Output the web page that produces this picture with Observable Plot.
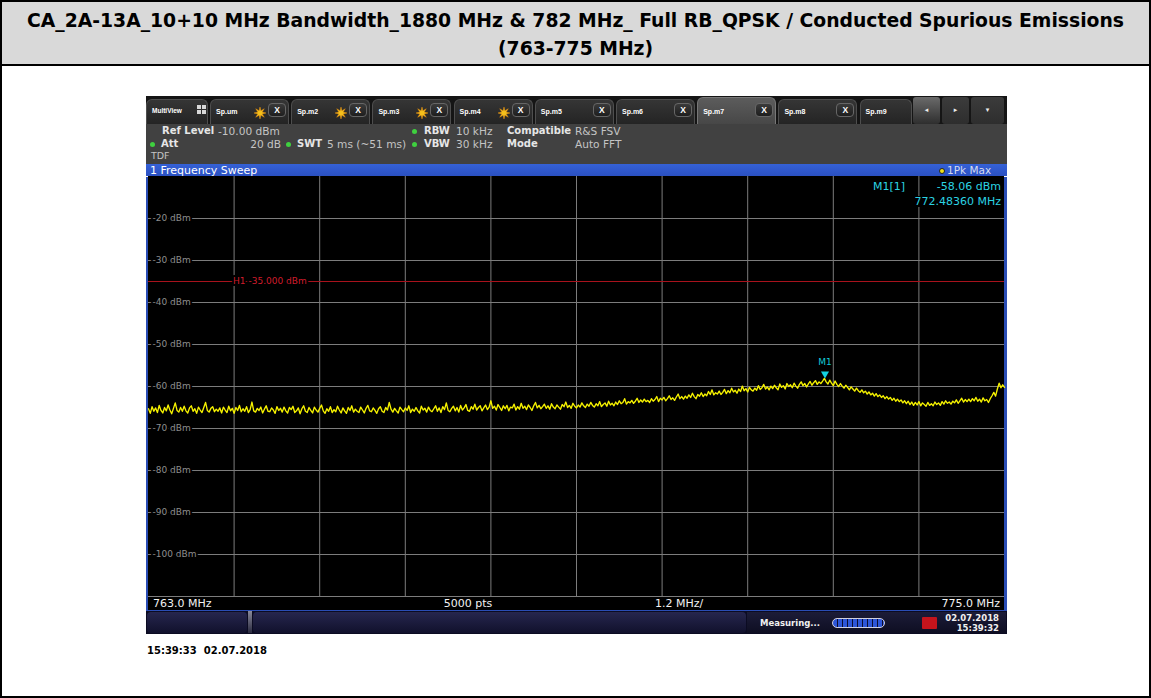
<!DOCTYPE html>
<html><head><meta charset="utf-8">
<script src="https://cdn.jsdelivr.net/npm/d3@7"></script>
<script src="https://cdn.jsdelivr.net/npm/@observablehq/plot@0.6"></script>
<style>
body{margin:0;background:#fff;}
#page{position:relative;width:1151px;height:698px;overflow:hidden;font-family:"DejaVu Sans",sans-serif;}
.a{position:absolute;white-space:nowrap;}
.t{position:absolute;white-space:pre;line-height:1;}
.lab{font-weight:bold;color:#e6e6e6;font-size:10px;}
.val{color:#c4c4c4;font-size:10.6px;}
</style></head><body><div id="page"></div>
<script>
// ---------- data ----------
const titleLines = ["CA_2A-13A_10+10 MHz Bandwidth_1880 MHz & 782 MHz_ Full RB_QPSK / Conducted Spurious Emissions", "(763-775 MHz)"];
const freqDomain = [763, 775];
const levelDomain = [-110, -10];
const gridFreqs = [764.2, 765.4, 766.6, 767.8, 769.0, 770.2, 771.4, 772.6, 773.8];
const gridLevels = [-20, -30, -40, -50, -60, -70, -80, -90, -100, -110];
const levelTicks = [-20, -30, -40, -50, -60, -70, -80, -90, -100];
const h1Level = -35;
const h1Label = "H1 -35.000 dBm";
const sweepStart = 763.0, sweepStep = 0.025;
const traceLevels = [
-65.3,-66.4,-64.8,-65.9,-65.1,-66.2,-64.5,-65.7,-66.3,-65.0,
-65.8,-64.4,-65.6,-66.5,-65.2,-63.9,-65.7,-66.1,-65.0,-65.9,
-64.7,-65.8,-66.3,-65.1,-64.6,-65.9,-65.3,-66.4,-64.9,-65.6,
-66.2,-65.0,-63.8,-65.7,-66.1,-65.2,-64.8,-66.0,-65.4,-65.9,
-65.1,-66.3,-64.9,-65.6,-66.2,-64.7,-65.8,-65.2,-66.4,-65.0,
-65.7,-64.5,-66.0,-65.3,-65.9,-64.8,-66.2,-65.5,-63.7,-65.8,
-66.1,-65.2,-65.7,-64.9,-66.3,-65.4,-64.6,-65.9,-66.0,-65.1,
-65.6,-66.4,-64.8,-65.7,-65.2,-66.1,-64.9,-65.8,-66.3,-65.0,
-65.5,-64.7,-66.2,-65.8,-65.1,-66.5,-65.3,-64.6,-65.9,-66.2,
-65.0,-65.7,-66.3,-64.9,-65.6,-66.1,-65.2,-64.4,-65.8,-66.4,
-65.3,-65.9,-64.8,-66.2,-65.5,-66.0,-64.7,-65.6,-66.3,-65.1,
-65.8,-66.4,-65.0,-65.7,-64.6,-66.1,-65.4,-65.9,-66.2,-64.9,
-65.6,-66.3,-65.2,-64.5,-65.8,-66.0,-65.1,-65.7,-66.4,-65.3,
-64.8,-65.9,-66.2,-65.0,-65.6,-63.8,-65.4,-66.1,-65.2,-65.8,
-66.3,-64.9,-65.5,-66.0,-65.1,-65.7,-64.6,-66.2,-65.4,-65.9,
-65.0,-65.8,-66.3,-64.7,-65.6,-65.2,-66.1,-64.9,-65.7,-66.0,
-65.3,-64.6,-65.9,-65.1,-66.2,-64.8,-65.5,-63.9,-65.7,-66.0,
-65.2,-64.7,-65.8,-65.0,-66.1,-64.5,-65.6,-65.1,-64.3,-65.7,
-65.9,-64.8,-65.4,-64.2,-65.6,-65.0,-64.6,-65.8,-65.1,-64.4,
-65.5,-64.9,-63.4,-65.2,-64.7,-65.6,-64.3,-65.0,-65.7,-64.6,
-65.3,-64.5,-65.8,-64.9,-65.1,-64.2,-65.6,-64.8,-65.4,-64.0,
-65.2,-64.7,-65.5,-64.4,-65.0,-65.7,-64.6,-63.8,-65.1,-64.5,
-65.3,-64.8,-64.2,-65.2,-64.6,-65.4,-64.1,-64.9,-65.3,-64.4,
-64.9,-65.4,-64.3,-64.8,-63.7,-65.0,-64.5,-65.2,-64.0,-64.7,
-65.1,-64.4,-64.9,-63.9,-64.6,-65.0,-64.2,-64.7,-63.8,-64.5,
-64.9,-64.1,-64.6,-63.6,-64.8,-64.3,-63.9,-64.7,-63.5,-64.4,
-64.0,-64.6,-63.7,-64.3,-63.4,-64.1,-63.8,-62.9,-64.2,-63.6,
-63.9,-63.3,-64.0,-63.5,-62.8,-63.8,-63.2,-63.7,-63.0,-63.6,
-63.3,-63.8,-62.9,-63.5,-63.1,-62.4,-63.6,-62.8,-63.2,-62.6,
-63.4,-62.9,-62.2,-63.1,-62.7,-63.3,-62.5,-61.8,-62.9,-62.4,
-63.0,-62.3,-62.8,-62.0,-62.6,-61.6,-62.4,-62.9,-61.9,-62.3,
-61.5,-62.4,-61.8,-62.2,-61.2,-61.9,-60.8,-62.0,-61.5,-61.8,
-61.1,-61.9,-61.4,-60.7,-61.7,-61.0,-61.5,-60.4,-61.3,-60.9,
-61.6,-60.6,-61.2,-59.9,-61.0,-60.5,-61.3,-60.2,-60.8,-61.1,
-60.4,-60.9,-59.8,-60.7,-60.3,-59.5,-60.6,-60.1,-60.8,-59.9,
-60.5,-59.7,-60.3,-60.8,-59.4,-60.2,-59.8,-60.6,-59.3,-60.0,
-59.6,-60.3,-59.2,-59.9,-60.4,-59.5,-58.9,-59.8,-59.3,-60.1,
-59.4,-58.8,-59.7,-59.1,-58.6,-59.5,-58.9,-59.3,-58.7,-58.06,
-58.9,-59.4,-58.5,-59.2,-59.8,-58.7,-59.5,-60.0,-59.3,-59.9,
-60.4,-59.7,-60.2,-60.8,-60.1,-60.6,-61.1,-60.4,-61.0,-61.4,
-60.8,-61.5,-61.1,-61.8,-61.3,-62.0,-61.6,-62.3,-61.7,-62.4,
-62.0,-62.6,-62.2,-62.9,-62.4,-63.0,-62.6,-63.3,-62.8,-63.5,
-63.0,-63.6,-63.2,-63.9,-63.4,-64.1,-63.5,-64.3,-63.7,-64.5,
-63.8,-64.4,-63.6,-64.6,-63.9,-64.3,-64.7,-63.8,-64.5,-64.1,
-64.6,-63.7,-64.3,-63.9,-64.5,-63.6,-64.2,-63.4,-64.0,-63.7,
-64.2,-63.5,-63.9,-63.2,-64.0,-63.4,-62.8,-63.7,-63.1,-63.6,
-63.0,-63.6,-62.9,-63.4,-62.6,-63.5,-63.0,-63.7,-62.7,-63.4,
-63.1,-63.8,-62.9,-62.2,-61.4,-62.3,-60.6,-59.2,-60.3,-59.6,
-60.2];
const marker = {name: "M1", freq: 772.4836, level: -58.06};
const markerText = ["M1[1]", "-58.06 dBm", "772.48360 MHz"];
const tabNames = ["Sp.um","Sp.m2","Sp.m3","Sp.m4","Sp.m5","Sp.m6","Sp.m7","Sp.m8","Sp.m9"];
const starTabs = [0,1,2,3];
const activeTab = 6;
const bottomLabels = ["763.0 MHz", "5000 pts", "1.2 MHz/", "775.0 MHz"];
const footerStamp = "15:39:33  02.07.2018";
const statusDate = ["02.07.2018", "15:39:32"];

const trace = traceLevels.map((v, i) => ({f: sweepStart + i * sweepStep, v}));

// ---------- helpers ----------
const page = document.getElementById("page");
function box(x, y, w, h, css) {
  const d = document.createElement("div");
  d.className = "a";
  d.style.cssText = `left:${x}px;top:${y}px;width:${w}px;height:${h}px;` + (css || "");
  page.appendChild(d); return d;
}
function txt(s, x, cy, css, anchor, cls) {
  const d = document.createElement("div");
  d.className = "t" + (cls ? " " + cls : "");
  d.textContent = s;
  d.style.cssText = css || "";
  page.appendChild(d);
  const r = d.getBoundingClientRect();
  let left = x;
  if (anchor === "end") left = x - r.width;
  else if (anchor === "middle") left = x - r.width / 2;
  d.style.left = left + "px";
  d.style.top = (cy - r.height / 2) + "px";
  return d;
}
function star(cx, cy) {
  const pts = [];
  for (let k = 0; k < 16; k++) {
    const rr = k % 2 ? 2.4 : 6;
    const a = k * Math.PI / 8;
    pts.push((rr * Math.cos(a)).toFixed(2) + "," + (rr * Math.sin(a)).toFixed(2));
  }
  const d = box(cx - 6, cy - 6, 12, 12, "");
  d.innerHTML = `<svg width="12" height="12" viewBox="-6 -6 12 12"><polygon points="${pts.join(" ")}" fill="#f4c01c" stroke="#e08a10" stroke-width="0.5"/></svg>`;
}

// ---------- outer table ----------
box(0, 0, 1151, 698, "box-sizing:border-box;border:2px solid #000;background:#fff;");
box(0, 0, 1151, 66, "box-sizing:border-box;border:2px solid #000;background:#d9d9d9;");
{
  const tcss = "font-family:'DejaVu Sans Condensed','DejaVu Sans',sans-serif;font-weight:bold;font-size:19px;color:#000;";
  const l1 = txt(titleLines[0], 0, 20, tcss);
  const w = l1.getBoundingClientRect().width;
  const s = 1097 / w;
  l1.style.transformOrigin = "0 50%";
  l1.style.transform = `scaleX(${s})`;
  l1.style.left = (575.5 - 1097 / 2) + "px";
  const l2 = txt(titleLines[1], 0, 48, tcss);
  const w2 = l2.getBoundingClientRect().width * s;
  l2.style.transformOrigin = "0 50%";
  l2.style.transform = `scaleX(${s})`;
  l2.style.left = (575.5 - w2 / 2) + "px";
}

// ---------- instrument screen ----------
// tab bar
box(146, 96, 861, 28, "background:#151515;");
box(146, 99, 62, 25, "background:linear-gradient(#353535,#242424);border:1px solid #4e4e4e;border-bottom:none;border-radius:6px 6px 0 0;box-sizing:border-box;");
txt("MultiView", 152, 111, "font-family:'Liberation Sans',sans-serif;font-weight:bold;font-size:6.5px;color:#fff;");
[[197,105],[202,105],[197,110],[202,110]].forEach(([x,y]) => box(x, y, 4, 4, "background:#d8d8d8;"));
tabNames.forEach((name, i) => {
  const x = 210 + i * 81.2;
  const width = i === tabNames.length - 1 ? 52 : 79;
  const act = i === activeTab;
  box(x, act ? 97 : 99, width, act ? 27 : 25,
    `box-sizing:border-box;border:1px solid ${act ? "#777" : "#4e4e4e"};border-bottom:none;border-radius:6px 6px 0 0;background:${act ? "linear-gradient(#5c5c5c,#474747)" : "linear-gradient(#353535,#242424)"};`);
  txt(name, x + 6, 111, "font-family:'Liberation Sans',sans-serif;font-weight:bold;font-size:7px;color:#fff;");
  if (starTabs.includes(i)) star(x + 50, 110);
  if (i < tabNames.length - 1) {
    box(x + 58, 103, 18, 14, "box-sizing:border-box;border:1px solid #666;border-radius:4px;background:linear-gradient(#3a3a3a,#1e1e1e);");
    txt("X", x + 67, 110.5, "font-family:'Liberation Sans',sans-serif;font-weight:bold;font-size:8.5px;color:#fff;", "middle");
  }
});
[[913, 27, "#6a6a6a", "◂"], [942, 27, "#3b3b3b", "▸"], [971, 33, "#3b3b3b", "▾"]].forEach(([x, w, c, g]) => {
  box(x, 97, w, 27, `background:linear-gradient(${c},#2e2e2e);border-radius:3px;`);
  txt(g, x + w / 2, 110, "font-size:7px;color:#eee;", "middle");
});

// info panel
box(146, 124, 861, 40, "background:#414141;");
const gd = (x, y) => box(x - 2.5, y - 2.5, 5, 5, "border-radius:50%;background:#3fd03f;");
txt("Ref Level", 162, 131, "", "start", "lab");
txt("-10.00 dBm", 218, 131, "", "start", "val");
gd(152, 144); txt("Att", 161, 144, "", "start", "lab");
txt("20 dB", 281, 144, "", "end", "val");
gd(288, 144); txt("SWT", 297, 144, "", "start", "lab");
txt("5 ms (~51 ms)", 327, 144, "", "start", "val");
gd(414, 131); txt("RBW", 424, 131, "", "start", "lab");
txt("10 kHz", 456, 131, "", "start", "val");
gd(414, 144); txt("VBW", 424, 144, "", "start", "lab");
txt("30 kHz", 456, 144, "", "start", "val");
txt("Compatible", 507, 131, "", "start", "lab");
txt("R&S FSV", 575, 131, "", "start", "val");
txt("Mode", 507, 144, "", "start", "lab");
txt("Auto FFT", 575, 144, "", "start", "val");
txt("TDF", 151, 156, "font-size:9.5px;color:#c4c4c4;");

// blue frame
box(146, 177, 861, 435, "background:#2a4db5;");

// label bar
box(148, 596, 856, 14, "background:#000;");
const blcss = "font-size:11px;color:#f2f2f2;";
txt(bottomLabels[0], 153, 603, blcss);
txt(bottomLabels[1], 468, 603, blcss, "middle");
txt(bottomLabels[2], 655, 603, blcss);
txt(bottomLabels[3], 1000, 603, blcss, "end");

// ---------- plot ----------
const chart = Plot.plot({
  width: 856, height: 420,
  margin: 0,
  x: {domain: freqDomain, axis: null},
  y: {domain: levelDomain, axis: null},
  style: {background: "#000", fontFamily: "'DejaVu Sans', sans-serif", overflow: "visible"},
  marks: [
    Plot.ruleX(gridFreqs, {stroke: "#7c7c7c", strokeWidth: 1}),
    Plot.ruleY(gridLevels, {stroke: "#7c7c7c", strokeWidth: 1}),
    Plot.text(levelTicks, {y: d => d, text: d => `${d} dBm`, frameAnchor: "left", dx: 4, textAnchor: "start",
      fill: "#8e8e8e", stroke: "#000", strokeWidth: 4, paintOrder: "stroke", fontSize: 9}),
    Plot.ruleY([h1Level], {stroke: "#a8121c", strokeWidth: 1}),
    Plot.text([h1Level], {x: gridFreqs[0], y: d => d, text: () => h1Label, textAnchor: "start", dx: -1,
      fill: "#d01c2c", stroke: "#000", strokeWidth: 4, paintOrder: "stroke", fontSize: 9}),
    Plot.line(trace, {x: "f", y: "v", stroke: "#f6f200", strokeWidth: 1.35}),
    Plot.dot([marker], {x: "freq", y: "level", symbol: "triangle", rotate: 180, r: 3, fill: "#12d2e2", stroke: "none", dy: -4.6}),
    Plot.text([marker], {x: "freq", y: "level", text: "name", dy: -16, fill: "#12c8d8", fontSize: 9})
  ]
});
chart.style.position = "absolute";
chart.style.left = "148px";
chart.style.top = "176px";
page.appendChild(chart);

// sweep title bar (above plot's top pixel)
box(146, 164, 861, 12, "background:linear-gradient(#3561d6,#2a50c2);");
txt("1 Frequency Sweep", 150, 170.5, "font-size:11px;color:#fff;");
box(939, 167.5, 6, 6, "border-radius:50%;background:#f0e21a;border:1px solid #222;box-sizing:border-box;");
txt("1Pk Max", 947, 170.5, "font-size:10.5px;color:#d7dbef;");

// marker readout
const mcss = "font-size:11px;color:#2bd3e3;background:#000;";
txt(markerText[0], 873, 186, mcss);
txt(markerText[1], 1001, 186, mcss, "end");
txt(markerText[2], 1001, 201, mcss, "end");

// status bar
box(146, 611, 861, 23, "background:#0b0b22;");
box(147, 612, 100, 21, "background:linear-gradient(#26264e,#11112c);border-radius:4px;");
box(248, 611, 4, 22, "background:linear-gradient(#8a8a9a,#2a2a40);");
box(253, 612, 493, 21, "background:linear-gradient(#26264e,#11112c);border-radius:4px;");
box(747, 612, 259, 21, "background:linear-gradient(#1c1c38,#0e0e22);");
txt("Measuring...", 760, 623, "font-size:8.5px;font-weight:bold;color:#f0f0f0;");
box(832, 618, 53, 10, "box-sizing:border-box;border:1px solid #d0d0e0;border-radius:5px;background:repeating-linear-gradient(90deg,#2d56d8 0 4px,#0c0c30 4px 5px);");
box(922, 617, 15, 12, "background:#c4141c;border-radius:1px;");
txt(statusDate[0], 999, 618, "font-size:8.5px;font-weight:bold;color:#f0f0f0;", "end");
txt(statusDate[1], 999, 628, "font-size:8.5px;font-weight:bold;color:#f0f0f0;", "end");

// footer stamp
txt(footerStamp, 147, 651, "font-size:10px;font-weight:bold;color:#000;");
</script></body></html>
